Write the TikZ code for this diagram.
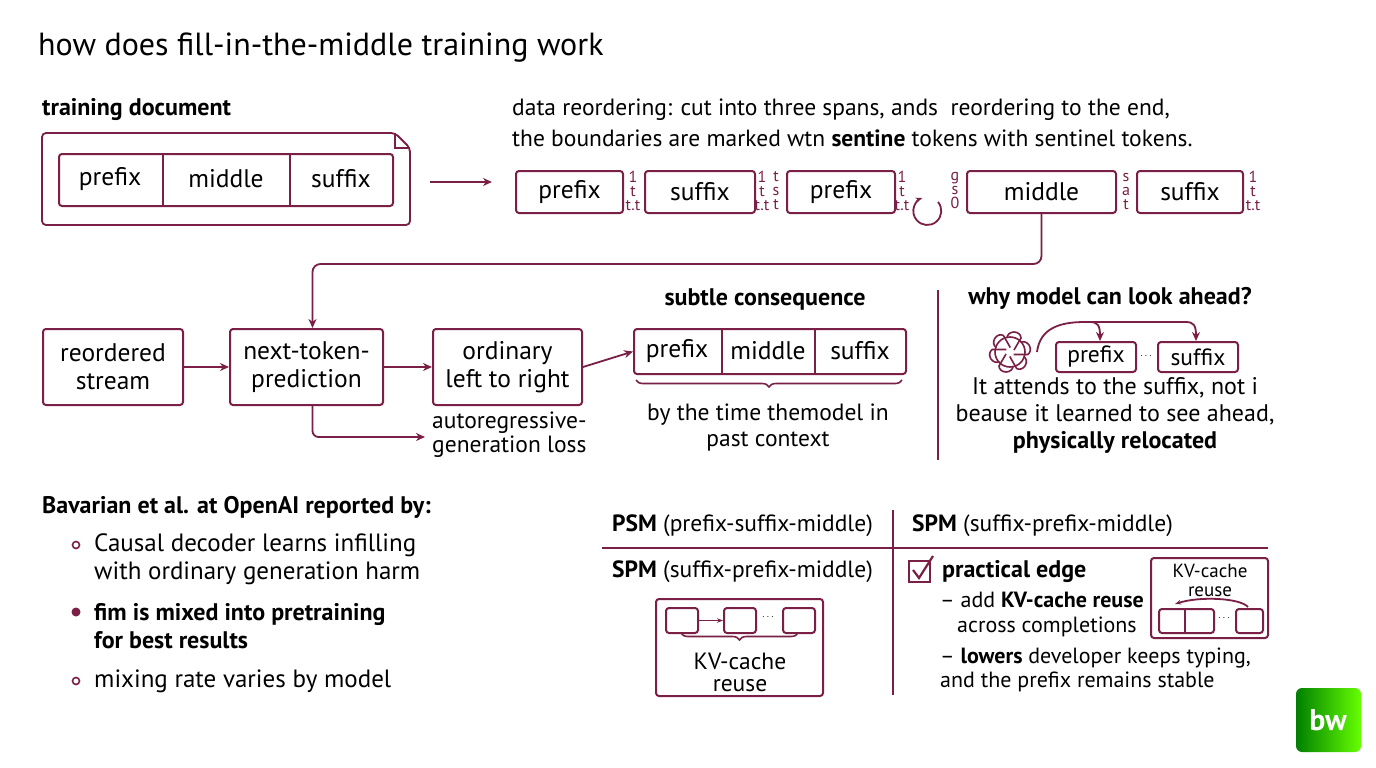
\documentclass[tikz,border=0pt]{standalone}
\usepackage{fontspec}
\setmainfont{PT Sans}
\usetikzlibrary{arrows.meta,decorations.pathreplacing,calc}
\definecolor{mar}{HTML}{7A1F45}
\begin{document}
\begin{tikzpicture}[x=1pt,y=-1pt,
  bx/.style={draw=mar,line width=2pt,rounded corners=3pt,inner sep=0pt},
  arr/.style={draw=mar,line width=1.8pt,-{Stealth[length=9pt,width=8pt]}},
  ln/.style={draw=mar,line width=1.8pt},
  t20/.style={font=\fontsize{23.5}{26}\selectfont,inner sep=0pt},
  t22/.style={font=\fontsize{25.5}{28}\selectfont,inner sep=0pt},
  hb/.style={font=\bfseries\fontsize{24}{26}\selectfont,inner sep=0pt},
  sn/.style={font=\fontsize{16}{14}\selectfont,text=mar,inner sep=0pt,align=center},
  br/.style={draw=mar,line width=1.6pt,decorate,decoration={brace,mirror,amplitude=7pt}}]
\useasboundingbox (0,0) rectangle (1376,768);
\fill[white] (0,0) rectangle (1376,768);
\node[anchor=west,font=\fontsize{32}{34}\selectfont,inner sep=0pt] (title) at (38,48) {how does fill-in-the-middle training work};
% training document
\node[anchor=west,hb] (tdl) at (42,110) {training document};
\draw[ln,rounded corners=4pt] (42,133) -- (395,133) -- (410,148) -- (410,225) -- (42,225) -- cycle;
\draw[ln] (395,133) -- (395,148) -- (410,148);
\node[bx,minimum width=334,minimum height=52,anchor=north west] (doc) at (58,153) {};
\draw[ln] (163,153)--(163,205) (290,153)--(290,205);
\node[t22] (d1) at (110,179) {prefix};
\node[t22] (d2) at (226,179) {middle};
\node[t22] (d3) at (341,179) {suffix};
\coordinate (arrs) at (430,182); \coordinate (arre) at (492,182);
\draw[arr] (arrs) -- (arre);
% reordering text
\node[anchor=west,t20] (r1) at (512,110) {data reordering: cut into three spans, ands\ \ reordering to the end,};
\node[anchor=west,t20] (r2) at (512,138) {the boundaries are marked wtn \textbf{sentine} tokens with sentinel tokens.};
% sequence
\foreach \n/\a/\b/\t in {s1/515/622/prefix,s2/644/754/suffix,s3/786/894/prefix,s4/966/1115/middle,s5/1136/1242/suffix}{
  \node[bx,minimum width=\b-\a,minimum height=42,anchor=north west,t22] (\n) at (\a,170) {};
  \node[t22] at (\n.center) {\t};
}
\node[sn] at (633,191) {1\\t\\t.t};
\node[sn] at (762,191) {1\\t\\t.t};
\node[sn] at (776,191) {t\\s\\t};
\node[sn] at (902,191) {1\\t\\t.t};
\draw[mar,line width=1.8pt,-{Stealth[length=7pt]}] (938,202) arc[start angle=-40,end angle=250,radius=14];
\node[sn] at (955,191) {g\\s\\0};
\node[sn] at (1126,191) {s\\a\\t};
\node[sn] at (1253,191) {1\\t\\t.t};
% row 2
\node[bx,minimum width=140,minimum height=76,anchor=north west] (rs) at (42,328) {};
\node[t22,align=center] at (rs.center) {reordered\\stream};
\node[bx,minimum width=153,minimum height=76,anchor=north west] (ntp) at (229,328) {};
\node[t22,align=center] at (ntp.center) {next-token-\\prediction};
\node[bx,minimum width=149,minimum height=76,anchor=north west] (olr) at (432,328) {};
\node[t22,align=center] at (olr.center) {ordinary\\left to right};
\draw[arr,rounded corners=8pt] (s4.south) -- ++(0,50) -| ([xshift=6]ntp.north);
\draw[arr] (rs.east) -- (ntp.west);
\draw[arr] (ntp.east) -- (olr.west);
\coordinate (lossend) at (425,437);
\draw[arr,rounded corners=6pt] ([xshift=6]ntp.south) |- (lossend);
\node[anchor=west,t20,align=left,font=\fontsize{23.5}{24}\selectfont] (loss) at (432,435) {autoregressive-\\generation loss};
\node[anchor=south,hb] (sc) at (765,310) {subtle consequence};
\node[bx,minimum width=272,minimum height=45,anchor=north west] (sub) at (633,328) {};
\draw[arr] (olr.east) -- (sub.west);
\draw[ln] (722,328)--(722,373) (815,328)--(815,373);
\node[t22] at (677,351) {prefix};
\node[t22] at (768,351) {middle};
\node[t22] at (860,351) {suffix};
\draw[br] (636,380) -- (902,380);
\node[t20,align=center] (bt) at (768,428) {by the time themodel in\\past context};
\draw[ln] (938,290) -- (938,460);
\node[anchor=south,hb] (why) at (1110,310) {why model can look ahead?};
% icon
\begin{scope}[shift={(1010,352)}]
\foreach \a in {0,60,...,300}{\draw[mar,line width=1.6pt,rotate=\a] (-3,-14) arc[start angle=180,end angle=360,x radius=7,y radius=6] -- (4,-2);}
\draw[mar,line width=1.6pt] (0,0) circle (15);
\end{scope}
\node[bx,minimum width=80,minimum height=30,anchor=north west] (wp) at (1055,341) {};
\node[t20] at (wp.center) {prefix};
\node[bx,minimum width=80,minimum height=30,anchor=north west] (ws) at (1157,341) {};
\node[t20] at (ws.center) {suffix};
\node[sn,text=black,font=\fontsize{10}{10}\selectfont] at (1146,356) {$\cdots$};
\draw[ln] (1037,352) .. controls (1040,328) and (1060,322) .. (1085,322) -- (1186,322);
\draw[arr] (1090,322) .. controls (1098,322) and (1100,326) .. (wp.north-|1100,0);
\draw[arr] (1186,322) .. controls (1194,322) and (1196,326) .. (ws.north-|1196,0);
\node[align=center,font=\fontsize{24}{27}\selectfont,inner sep=0pt] (wt) at (1115,415) {It attends to the suffix, not i\\beause it learned to see ahead,\\\textbf{physically relocated}};
% bottom left
\node[anchor=west,hb] (bav) at (42,507) {Bavarian et al. at OpenAI reported by:};
\draw[mar,line width=1.6pt] (76,545) circle (3.5);
\node[anchor=west,align=left,font=\fontsize{25}{28}\selectfont,inner sep=0pt] (b1) at (94,559) {Causal decoder learns infilling\\with ordinary generation harm};
\fill[mar] (76,612) circle (4.5);
\node[anchor=west,align=left,font=\bfseries\fontsize{24}{28}\selectfont,inner sep=0pt] (b2) at (94,626) {fim is mixed into pretraining\\for best results};
\draw[mar,line width=1.6pt] (76,681) circle (3.5);
\node[anchor=west,font=\fontsize{25}{28}\selectfont,inner sep=0pt] (b3) at (94,681) {mixing rate varies by model};
% table
\draw[ln] (602,548) -- (1268,548);
\draw[ln] (893,510) -- (893,695);
\node[anchor=west,t20] (h1) at (612,526) {\textbf{PSM} (prefix-suffix-middle)};
\node[anchor=west,t20] (h2) at (912,526) {\textbf{SPM} (suffix-prefix-middle)};
\node[anchor=west,t20] (h3) at (612,572) {\textbf{SPM} (suffix-prefix-middle)};
\node[bx,minimum width=167,minimum height=97,anchor=north west] (kvb) at (655,598) {};
\node[bx,minimum width=32,minimum height=25,anchor=north west] (k1) at (665,607) {};
\node[bx,minimum width=32,minimum height=25,anchor=north west] (k2) at (723,607) {};
\node[bx,minimum width=32,minimum height=25,anchor=north west] (k3) at (782,607) {};
\draw[ln,-{Stealth[length=6pt]}] (k1.east) -- (k2.west);
\node[sn,text=black,font=\fontsize{10}{10}\selectfont] at (768,617) {$\cdots$};
\draw[br] (681,633) -- (798,633);
\node[align=center,font=\fontsize{23.5}{22}\selectfont,inner sep=0pt] (kvt) at (740,672) {KV-cache\\reuse};
% right
\node[draw=mar,line width=1.8pt,minimum width=21,minimum height=21,anchor=north west,inner sep=0pt] (cb) at (908,560) {};
\draw[mar,line width=2.2pt] (913,570) -- (919,578) -- (933,556);
\node[anchor=west,hb] (pe) at (942,572) {practical edge};
\node[anchor=west,align=left,font=\fontsize{22}{25}\selectfont,inner sep=0pt] (p1) at (940,614) {-- add \textbf{KV-cache reuse}\\\hspace*{17pt}across completions};
\node[anchor=west,align=left,font=\fontsize{22}{24}\selectfont,inner sep=0pt] (p2) at (940,670) {-- \textbf{lowers} developer keeps typing,\\and the prefix remains stable};
\node[bx,minimum width=117,minimum height=80,anchor=north west] (kr) at (1150,557) {};
\node[font=\fontsize{19}{19}\selectfont,align=center,inner sep=0pt] at (1210,580) {KV-cache\\reuse};
\node[bx,minimum width=55,minimum height=24,anchor=north west] (q1) at (1158,608) {};
\draw[ln] (1185,608)--(1185,632);
\node[bx,minimum width=27,minimum height=24,anchor=north west] (q3) at (1235,608) {};
\node[sn,text=black,font=\fontsize{10}{10}\selectfont] at (1224,618) {$\cdots$};
\draw[ln,-{Stealth[length=6pt]}] (1248,607) .. controls (1240,598) and (1200,596) .. (1175,604);
% logo
\shade[left color=green!50!black, right color=green!60!yellow,rounded corners=6pt] (1296,688) rectangle (1361,752);
\node[text=white,font=\bfseries\fontsize{30}{30}\selectfont,inner sep=0pt] (bw) at (1328,720) {bw};
\end{tikzpicture}
\end{document}
